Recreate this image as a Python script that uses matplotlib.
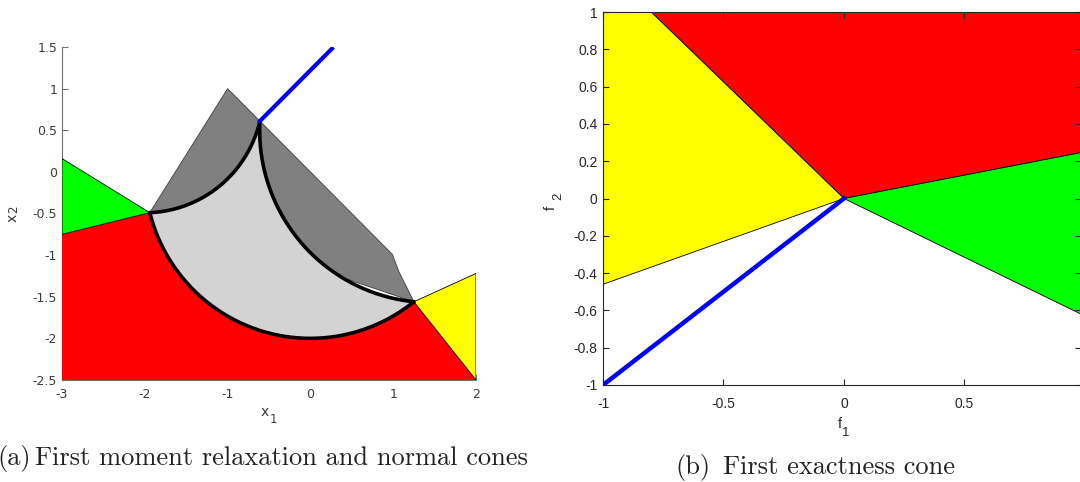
import numpy as np
import matplotlib.pyplot as plt
from matplotlib.patches import Polygon

plt.rcParams['axes.unicode_minus'] = False

# --- (a) first moment relaxation: key points
pt_a = (-1.94, -0.49)      # left junction
pt_b = (-0.61, 0.61)       # top junction
pt_c = (1.25, -1.56)       # right junction
mid_ac = (0.0, -2.0)       # bottom of lower arc
mid_ab = (-1.05, -0.13)    # on upper-left arc
mid_bc = (-0.17, -0.78)    # on right arc

dark_outline = [(-1.94, -0.49), (-1.0, 1.0), (0.99, -0.99), (1.07, -1.2), (1.25, -1.56)]
green_a = [(-3.0, 0.16), (-1.94, -0.49), (-3.0, -0.75)]
yellow_a = [(1.25, -1.56), (2.0, -1.22), (2.0, -2.5)]
red_left = [(-3.0, -2.5), (-3.0, -0.75)]
red_right = [(2.0, -2.5)]
blue_a = [(-0.61, 0.61), (0.26, 1.48)]

x_ticks_a = [-3, -2, -1, 0, 1, 2]
y_ticks_a = [-2.5, -2, -1.5, -1, -0.5, 0, 0.5, 1, 1.5]

# --- (b) first exactness cone
red_b = [(-0.8, 1.0), (1.0, 1.0), (1.0, 0.25), (0.0, 0.0)]
yellow_b = [(-1.0, 1.0), (-0.8, 1.0), (0.0, 0.0), (-1.0, -0.46)]
green_b = [(0.0, 0.0), (1.0, 0.25), (1.0, -0.63)]
blue_b = [(-1.0, -1.0), (0.0, 0.0)]

x_ticks_b = [-1, -0.5, 0, 0.5, 1]
y_ticks_b = [-1, -0.8, -0.6, -0.4, -0.2, 0, 0.2, 0.4, 0.6, 0.8, 1]


def fmt(v):
    return ('%g' % v)


def arc(p1, p2, p3, n=200):
    # circle through three points, walked from p1 to p3 via p2
    (x1, y1), (x2, y2), (x3, y3) = p1, p2, p3
    d = 2 * (x1 * (y2 - y3) + x2 * (y3 - y1) + x3 * (y1 - y2))
    ux = ((x1**2 + y1**2) * (y2 - y3) + (x2**2 + y2**2) * (y3 - y1) + (x3**2 + y3**2) * (y1 - y2)) / d
    uy = ((x1**2 + y1**2) * (x3 - x2) + (x2**2 + y2**2) * (x1 - x3) + (x3**2 + y3**2) * (x2 - x1)) / d
    r = np.hypot(x1 - ux, y1 - uy)
    t1 = np.arctan2(y1 - uy, x1 - ux)
    t2 = np.arctan2(y2 - uy, x2 - ux)
    t3 = np.arctan2(y3 - uy, x3 - ux)
    d13 = (t3 - t1) % (2 * np.pi)
    d12 = (t2 - t1) % (2 * np.pi)
    if d12 < d13:
        ts = t1 + np.linspace(0, d13, n)
    else:
        ts = t1 - np.linspace(0, 2 * np.pi - d13, n)
    return np.column_stack([ux + r * np.cos(ts), uy + r * np.sin(ts)])


def px(x, y):
    # figure pixel (from top-left) -> figure fraction
    return x / 1080, 1 - y / 482


fig = plt.figure(figsize=(10.8, 4.82), dpi=100)

ink = '#262626'
grey_ink = '#3a3a3a'

# ---------------- left panel
ax1 = fig.add_axes([62 / 1080, 1 - 380 / 482, 414 / 1080, 333 / 482])
arc_ac = arc(pt_a, mid_ac, pt_c)
arc_cb = arc(pt_c, mid_bc, pt_b)
arc_ba = arc(pt_b, mid_ab, pt_a)

ax1.add_patch(Polygon(dark_outline, closed=True, facecolor='#808080',
                      edgecolor='#404040', lw=0.6, zorder=1))
red_pts = np.vstack([red_left, arc_ac, red_right])
ax1.add_patch(Polygon(red_pts, closed=True, facecolor='#ff0000', edgecolor='none', zorder=2))
ax1.add_patch(Polygon(green_a, closed=True, facecolor='#00ff00', edgecolor='black', lw=0.6, zorder=2))
ax1.add_patch(Polygon(yellow_a, closed=True, facecolor='#ffff00', edgecolor='black', lw=0.6, zorder=2))
light = np.vstack([arc_ac, arc_cb, arc_ba])
ax1.add_patch(Polygon(light, closed=True, facecolor='#d3d3d3', edgecolor='none', zorder=3))
for seg in (arc_ac, arc_cb, arc_ba):
    ax1.plot(seg[:, 0], seg[:, 1], color='black', lw=2.6, zorder=4, solid_capstyle='round')
ax1.plot([p[0] for p in blue_a], [p[1] for p in blue_a], color='#0000ff', lw=3, zorder=5)

ax1.set_xlim(-3, 2)
ax1.set_ylim(-2.5, 1.5)
ax1.set_xticks(x_ticks_a)
ax1.set_xticklabels([fmt(v) for v in x_ticks_a], family='DejaVu Sans')
ax1.set_yticks(y_ticks_a)
ax1.set_yticklabels([fmt(v) for v in y_ticks_a], family='DejaVu Sans')
ax1.spines['top'].set_visible(False)
ax1.spines['right'].set_visible(False)
for s in ('left', 'bottom'):
    ax1.spines[s].set_zorder(0.5)
    ax1.spines[s].set_color('#707070')
    ax1.spines[s].set_linewidth(0.8)
ax1.set_axisbelow(True)
ax1.tick_params(direction='in', length=4, width=0.8, color='#707070', labelsize=9,
                labelcolor=grey_ink)
ax1.tick_params(axis='x', pad=6)
ax1.tick_params(axis='y', pad=3.5)

# axis labels of the left panel (subscript nearly full size, as in the original)
fig.text(*px(265, 416), 'x', family='DejaVu Sans', fontsize=10, color=grey_ink,
         ha='center', va='baseline')
fig.text(*px(273.5, 423), '1', family='DejaVu Sans', fontsize=8.5, color=grey_ink,
         ha='center', va='baseline')
fig.text(*px(13, 218), 'x', family='DejaVu Sans', fontsize=10, color=grey_ink,
         ha='center', va='center', rotation=90)
fig.text(*px(14, 209), '2', family='DejaVu Sans', fontsize=8.5, color=grey_ink,
         ha='center', va='center', rotation=90)

# ---------------- right panel (the picture is cropped just before f1 = 1)
ax2 = fig.add_axes([603 / 1080, 1 - 385 / 482, 478 / 1080, 373 / 482])
ax2.add_patch(Polygon(red_b, closed=True, facecolor='#ff0000', edgecolor='black', lw=0.6))
ax2.add_patch(Polygon(yellow_b, closed=True, facecolor='#ffff00', edgecolor='black', lw=0.6))
ax2.add_patch(Polygon(green_b, closed=True, facecolor='#00ff00', edgecolor='black', lw=0.6))
ax2.plot([p[0] for p in blue_b], [p[1] for p in blue_b], color='#0000ff', lw=3.2, zorder=4)
ax2.set_xlim(-1, 0.984)
ax2.set_ylim(-1, 1)
ax2.set_xticks(x_ticks_b)
ax2.set_xticklabels([fmt(v) for v in x_ticks_b], family='Liberation Sans')
ax2.set_xlim(-1, 0.984)
ax2.set_yticks(y_ticks_b)
ax2.set_yticklabels([fmt(v) for v in y_ticks_b], family='Liberation Sans')
for s in ax2.spines.values():
    s.set_color(ink)
    s.set_linewidth(0.8)
ax2.tick_params(direction='in', length=4, width=0.8, color=ink, labelsize=10,
                labelcolor=ink, top=True, right=True)
ax2.tick_params(axis='x', pad=9)
ax2.tick_params(axis='y', pad=4)

fig.text(*px(839.5, 424), 'f', family='Liberation Sans', fontsize=10.5, color=ink,
         ha='center', va='center')
fig.text(*px(845.5, 432.5), '1', family='Liberation Sans', fontsize=9.5, color=ink,
         ha='center', va='center')
fig.text(*px(551, 207.5), 'f', family='Liberation Sans', fontsize=10.5, color=ink,
         ha='center', va='center', rotation=90)
fig.text(*px(558, 196.5), '2', family='Liberation Sans', fontsize=9.5, color=ink,
         ha='center', va='center', rotation=90)

# captions
cap_kw = dict(family='cmr10', fontsize=19, color='#222222', va='baseline', ha='left')
fig.text(*px(-3, 465), '(a)', **cap_kw)
fig.text(*px(35, 465), 'First moment relaxation and normal cones', **cap_kw)
fig.text(*px(675, 474), '(b)', **cap_kw)
fig.text(*px(723, 474), 'First exactness cone', **cap_kw)

fig.savefig('out.png', dpi=100)
